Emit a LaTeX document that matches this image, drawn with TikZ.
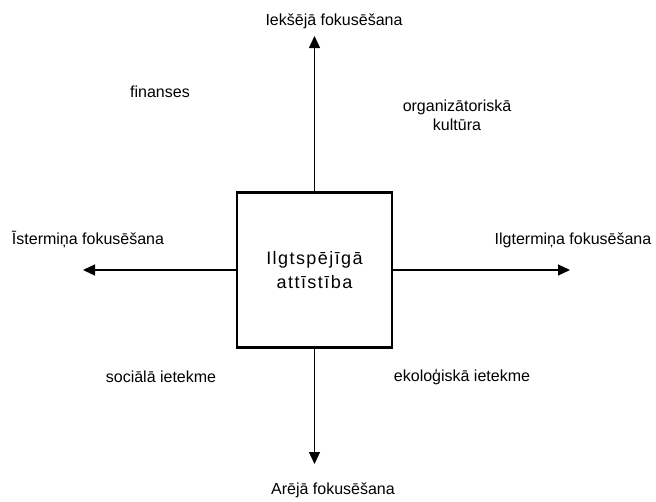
\documentclass[tikz,border=0pt]{standalone}
\usepackage{fontspec}
\setmainfont{Liberation Sans}
\usetikzlibrary{arrows.meta}
\begin{document}
\begin{tikzpicture}[x=1pt,y=-1pt,
  lbl/.style={font=\fontsize{16}{19}\selectfont, inner sep=0pt, align=center},
  axis/.style={line width=1.3pt, -{Triangle[length=12pt,width=11pt]}},
  core/.style={draw, line width=2.4pt, minimum width=155pt, minimum height=155pt, inner sep=0pt,
    font=\fontsize{18}{24}\selectfont\addfontfeature{LetterSpace=8}, align=center}]
  \useasboundingbox (0,0) rectangle (656,501);
  % central square
  \node[core] (c) at (314.5,270) {Ilgtspējīgā\\attīstība};
  % arrow tips
  \coordinate (tn) at (314.5,36);
  \coordinate (ts) at (314.5,464);
  \coordinate (tw) at (83,270);
  \coordinate (te) at (570,270);
  \draw[axis] (c.north) -- (tn);
  \draw[axis] (c.south) -- (ts);
  \draw[axis] (c.west) -- (tw);
  \draw[axis] (c.east) -- (te);
  % axis labels
  \node[lbl] (ln) at (334,21) {Iekšējā fokusēšana};
  \node[lbl] (ls) at (333,490) {Arējā fokusēšana};
  \node[lbl] (lw) at (88,240) {Īstermiņa fokusēšana};
  \node[lbl] (le) at (573,240) {Ilgtermiņa fokusēšana};
  % quadrant labels
  \node[lbl] (q1) at (160,92) {finanses};
  \node[lbl] (q2) at (457,115) {organizātoriskā\\kultūra};
  \node[lbl] (q3) at (161,377) {sociālā ietekme};
  \node[lbl] (q4) at (462,377) {ekoloģiskā ietekme};
\end{tikzpicture}
\end{document}
